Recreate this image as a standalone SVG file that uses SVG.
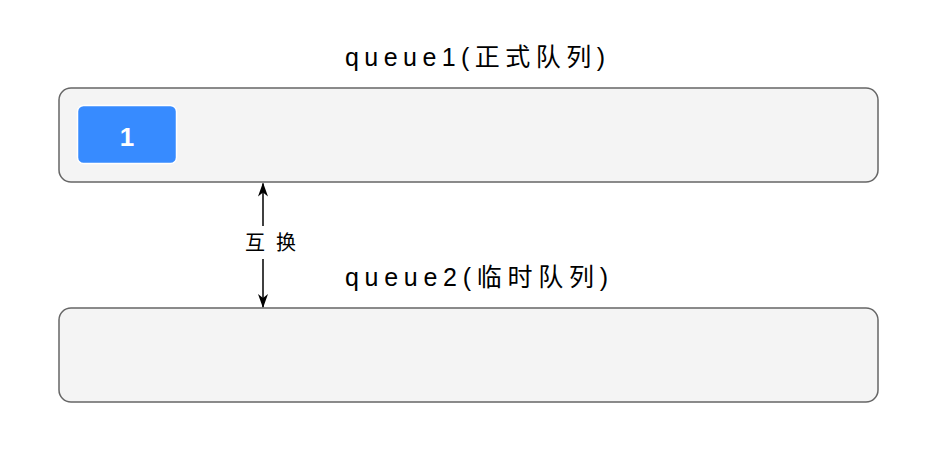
<svg xmlns="http://www.w3.org/2000/svg" width="938" height="456" viewBox="0 0 938 456">
<style>
.q{fill:#f4f4f4;stroke:#666;stroke-width:1.5}
.t{font-family:"Liberation Sans","Noto Sans CJK SC",sans-serif;fill:#000}
</style>
<defs>
<marker id="ah" viewBox="0 0 14 10" refX="13" refY="5" markerWidth="14" markerHeight="10" markerUnits="userSpaceOnUse" orient="auto-start-reverse">
<path d="M0,0 L14,5 L0,10 L4,5 Z" fill="#000"/>
</marker>
</defs>
<rect width="938" height="456" fill="#fff"/>
<g id="queue1">
<text class="t" x="345" y="66" font-size="25" textLength="260" lengthAdjust="spacing">queue1(正式队列)</text>
<rect class="q" x="59" y="88" width="819" height="94" rx="12"/>
</g>
<g id="item1">
<rect x="77.5" y="105.5" width="99" height="58" rx="6" fill="#378bff" stroke="#fff" stroke-width="1.5"/>
<text class="t" x="127" y="146" font-size="26" font-weight="bold" style="fill:#fff" text-anchor="middle">1</text>
</g>
<g id="queue2">
<text class="t" x="345" y="286" font-size="25" textLength="263" lengthAdjust="spacing">queue2(临时队列)</text>
<rect class="q" x="59" y="308" width="819" height="94" rx="12"/>
</g>
<g id="connectors">
<line x1="263" y1="226" x2="263" y2="183.5" stroke="#000" stroke-width="1.5" marker-end="url(#ah)"/>
<line x1="263" y1="259" x2="263" y2="307" stroke="#000" stroke-width="1.5" marker-end="url(#ah)"/>
<text class="t" x="245" y="250" font-size="20" textLength="51" lengthAdjust="spacing">互换</text>
</g>
</svg>
